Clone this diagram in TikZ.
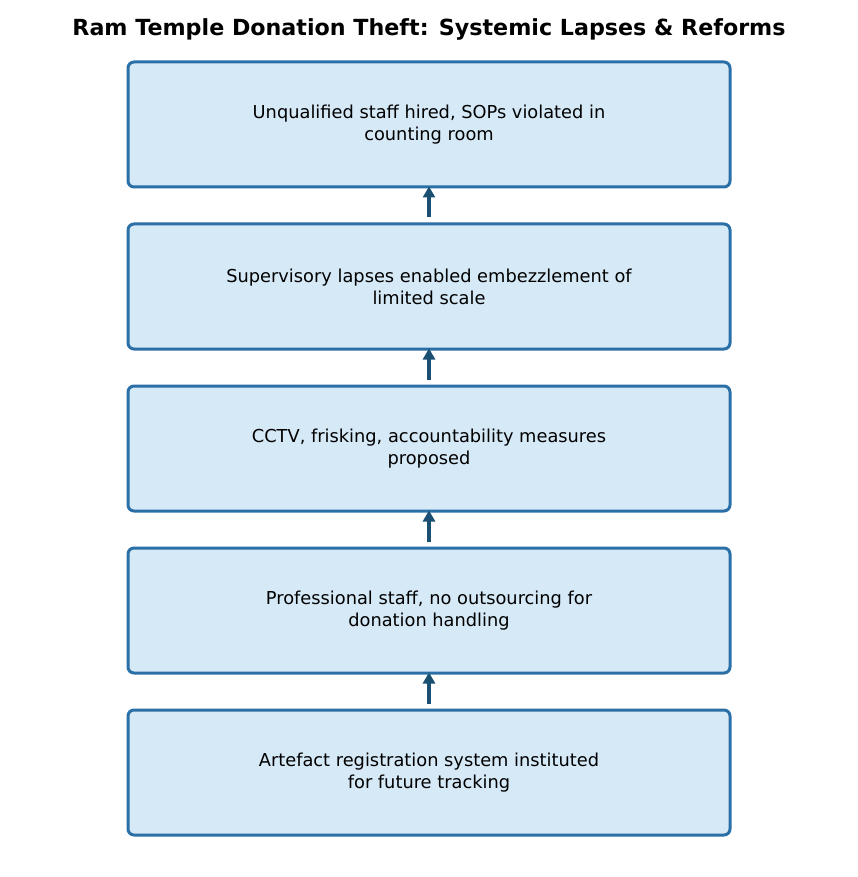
\documentclass[tikz,border=0pt]{standalone}
\usepackage{fontspec}
\setmainfont{DejaVu Sans}
\usetikzlibrary{arrows.meta, positioning}
\definecolor{boxfill}{HTML}{D6E9F7}
\definecolor{boxline}{HTML}{2A6FA6}
\definecolor{arrowcol}{HTML}{1B4F72}

\begin{document}
\begin{tikzpicture}[x=1pt, y=-1pt,
    stepbox/.style={draw=boxline, fill=boxfill, line width=3pt, rounded corners=6pt,
        minimum width=602pt, minimum height=125pt, align=center,
        font=\fontsize{17.8}{22}\selectfont, inner sep=0pt},
    uparrow/.style={-{Triangle[length=11pt, width=12pt]}, draw=arrowcol, line width=3.6pt}]
    % Rahmen
    \useasboundingbox (0,0) rectangle (858,877);
    
    % Titel
    \node[font=\fontsize{22.2}{26}\selectfont\bfseries] (title) at (429,29)
        {Ram Temple Donation Theft: Systemic Lapses \& Reforms};
    
    % Kästen
    \node[stepbox] (staff) at (429,124.5) {Unqualified staff hired, SOPs violated in\\counting room};
    \node[stepbox] (lapses) at (429,286.5) {Supervisory lapses enabled embezzlement of\\limited scale};
    \node[stepbox] (cctv) at (429,448.5) {CCTV, frisking, accountability measures\\proposed};
    \node[stepbox] (prof) at (429,610.5) {Professional staff, no outsourcing for\\donation handling};
    \node[stepbox] (registry) at (429,772.5) {Artefact registration system instituted\\for future tracking};
    
    % Pfeile
    \draw[uparrow] ([yshift=5pt]lapses.north) -- ([yshift=2pt]staff.south);
    \draw[uparrow] ([yshift=5pt]cctv.north) -- ([yshift=2pt]lapses.south);
    \draw[uparrow] ([yshift=5pt]prof.north) -- ([yshift=2pt]cctv.south);
    \draw[uparrow] ([yshift=5pt]registry.north) -- ([yshift=2pt]prof.south);
\end{tikzpicture}
\end{document}
